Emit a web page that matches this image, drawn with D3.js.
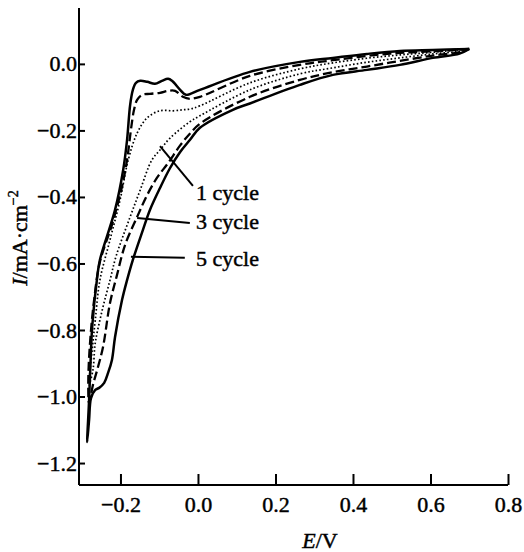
<!DOCTYPE html>
<html>
<head>
<meta charset="utf-8">
<script src="https://cdn.jsdelivr.net/npm/d3@7"></script>
<style>
  html, body { margin: 0; padding: 0; background: #fff; }
  svg text { font-family: "Liberation Serif", "Times New Roman", Times, serif; fill: #000; stroke: #000; stroke-width: 0.45px; }
</style>
</head>
<body>
<svg id="chart" width="524" height="552"></svg>
<script>
// Cyclic voltammograms, potential E (V) vs current density I (mA/cm^2).
// Each loop: forward scan from 0.7 V to the switching potential, then back.
const cycle1 = [
  [0.700, 0.045], [0.606, 0.035], [0.521, 0.027], [0.436, 0.017], [0.348, 0.003],
  [0.263, -0.015], [0.134, -0.057], [0.005, -0.126], [-0.021, -0.136], [-0.039, -0.138],
  [-0.064, -0.141], [-0.098, -0.141], [-0.131, -0.162], [-0.157, -0.208], [-0.180, -0.289],
  [-0.201, -0.409], [-0.227, -0.529], [-0.253, -0.650], [-0.265, -0.770], [-0.273, -0.860],
  [-0.281, -0.965],
  [-0.271, -0.920], [-0.265, -0.839], [-0.247, -0.740], [-0.227, -0.650], [-0.211, -0.577],
  [-0.175, -0.460], [-0.149, -0.379], [-0.119, -0.289], [-0.098, -0.259], [-0.072, -0.223],
  [-0.021, -0.174], [0.005, -0.156], [0.134, -0.078], [0.263, -0.030], [0.348, -0.012],
  [0.436, 0.005], [0.521, 0.018], [0.606, 0.030], [0.675, 0.038], [0.700, 0.045]
];

const cycle3 = [
  [0.700, 0.045], [0.606, 0.038], [0.521, 0.033], [0.436, 0.024], [0.348, 0.011],
  [0.263, -0.003], [0.134, -0.036], [0.005, -0.099], [-0.021, -0.105], [-0.039, -0.099],
  [-0.059, -0.081], [-0.077, -0.081], [-0.098, -0.087], [-0.124, -0.090], [-0.144, -0.093],
  [-0.157, -0.108], [-0.165, -0.138], [-0.173, -0.198], [-0.183, -0.289], [-0.198, -0.379],
  [-0.222, -0.484], [-0.253, -0.595], [-0.268, -0.710], [-0.278, -0.830], [-0.283, -0.950],
  [-0.281, -1.020],
  [-0.271, -0.965], [-0.260, -0.920], [-0.245, -0.851], [-0.227, -0.719], [-0.209, -0.635],
  [-0.188, -0.544], [-0.157, -0.460], [-0.131, -0.394], [-0.106, -0.343], [-0.077, -0.298],
  [-0.046, -0.245], [-0.021, -0.210], [0.005, -0.180], [0.134, -0.099], [0.263, -0.048],
  [0.348, -0.025], [0.436, -0.008], [0.521, 0.009], [0.606, 0.025], [0.675, 0.035],
  [0.700, 0.045]
];

const cycle5 = [
  [0.700, 0.045], [0.606, 0.042], [0.521, 0.039], [0.436, 0.030], [0.348, 0.018],
  [0.263, 0.006], [0.134, -0.024], [0.005, -0.078], [-0.031, -0.093],
  [-0.046, -0.078], [-0.067, -0.051], [-0.077, -0.045], [-0.093, -0.051], [-0.111, -0.060],
  [-0.131, -0.054], [-0.149, -0.051], [-0.160, -0.057], [-0.168, -0.078], [-0.175, -0.123],
  [-0.183, -0.229], [-0.193, -0.319], [-0.214, -0.439], [-0.253, -0.589], [-0.260, -0.641],
  [-0.273, -0.791], [-0.278, -0.920], [-0.281, -1.011], [-0.286, -1.137],
  [-0.281, -1.071], [-0.276, -1.005], [-0.265, -0.980], [-0.255, -0.974], [-0.242, -0.959],
  [-0.232, -0.929], [-0.222, -0.890], [-0.214, -0.821], [-0.196, -0.710], [-0.183, -0.650],
  [-0.168, -0.589], [-0.142, -0.499], [-0.124, -0.439], [-0.098, -0.373], [-0.072, -0.313],
  [-0.046, -0.265], [-0.021, -0.229], [0.005, -0.192], [0.090, -0.138], [0.134, -0.119],
  [0.263, -0.063], [0.348, -0.033], [0.436, -0.018], [0.521, -0.003], [0.606, 0.018],
  [0.675, 0.031], [0.700, 0.045]
];

const xTicks = [-0.2, 0.0, 0.2, 0.4, 0.6, 0.8];
const yTicks = [0.0, -0.2, -0.4, -0.6, -0.8, -1.0, -1.2];

// Callout labels: text, point on the curve, elbow end, text anchor (data units)
const calloutText = ["1 cycle", "3 cycle", "5 cycle"];
const calloutTip  = [[-0.098, -0.247], [-0.157, -0.463], [-0.173, -0.580]];
const calloutEnd  = [[-0.013, -0.367], [-0.021, -0.478], [-0.034, -0.583]];
const calloutPos  = [[-0.005, -0.409], [-0.005, -0.496], [-0.005, -0.607]];

const svg = d3.select("#chart");
const x = d3.scaleLinear().domain([-0.307, 0.8]).range([79, 508]);
const y = d3.scaleLinear().domain([-1.266, 0.168]).range([485, 8]);

const fmt = v => (v < 0 ? "\u2212" : "") + Math.abs(v).toFixed(1);

// axes
const xAxis = svg.append("g").attr("transform", `translate(0,${y.range()[0]})`)
  .call(d3.axisBottom(x).tickValues(xTicks).tickSize(-11).tickPadding(11).tickFormat(fmt));
const yAxis = svg.append("g").attr("transform", `translate(${x.range()[0]},0)`)
  .call(d3.axisLeft(y).tickValues(yTicks).tickSize(-6).tickPadding(2).tickFormat(fmt));

[xAxis, yAxis].forEach(g => {
  g.attr("font-family", null);
  g.select(".domain").attr("stroke", "#000").attr("stroke-width", 2);
  g.selectAll(".tick line").attr("stroke", "#000").attr("stroke-width", 2);
  g.selectAll(".tick text").attr("font-size", 22).attr("fill", "#000");
});
xAxis.select(".domain").attr("d", `M${x.range()[0]},0H${x.range()[1]}`);
yAxis.select(".domain").attr("d", `M0,${y.range()[0]}V${y.range()[1]}`);

// curves
const line = d3.line().x(d => x(d[0])).y(d => y(d[1])).curve(d3.curveCatmullRom.alpha(0.5));

svg.append("path").datum(cycle1).attr("d", line)
  .attr("fill", "none").attr("stroke", "#000").attr("stroke-width", 1.7)
  .attr("stroke-dasharray", "1.6,2.2");
svg.append("path").datum(cycle3).attr("d", line)
  .attr("fill", "none").attr("stroke", "#000").attr("stroke-width", 2.3)
  .attr("stroke-dasharray", "9,4");
svg.append("path").datum(cycle5).attr("d", line)
  .attr("fill", "none").attr("stroke", "#000").attr("stroke-width", 2.5);

// callouts
calloutText.forEach((t, i) => {
  svg.append("line")
    .attr("x1", x(calloutTip[i][0])).attr("y1", y(calloutTip[i][1]))
    .attr("x2", x(calloutEnd[i][0])).attr("y2", y(calloutEnd[i][1]))
    .attr("stroke", "#000").attr("stroke-width", 2);
  svg.append("text")
    .attr("x", x(calloutPos[i][0])).attr("y", y(calloutPos[i][1]))
    .attr("font-size", 22).text(t);
});

// axis titles
const xt = svg.append("text").attr("x", 320).attr("y", 548)
  .attr("text-anchor", "middle").attr("font-size", 22);
xt.append("tspan").attr("font-style", "italic").text("E");
xt.append("tspan").text("/V");

const yt = svg.append("text")
  .attr("transform", "translate(27,238) rotate(-90)")
  .attr("text-anchor", "middle").attr("font-size", 22);
yt.append("tspan").attr("font-style", "italic").text("I");
yt.append("tspan").text("/mA\u00b7cm");
yt.append("tspan").attr("font-size", 14).attr("dy", -9).text("\u22122");
</script>
</body>
</html>
